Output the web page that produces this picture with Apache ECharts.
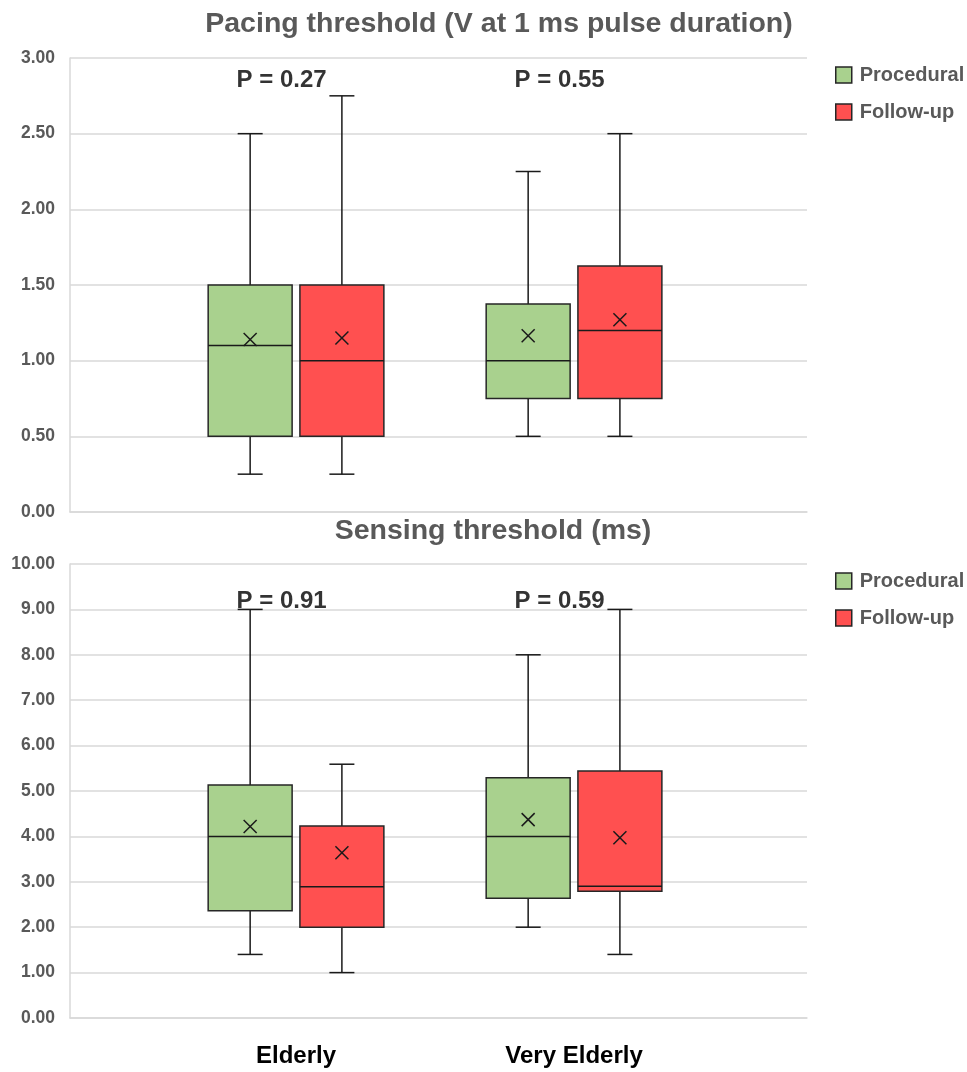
<!DOCTYPE html>
<html><head><meta charset="utf-8">
<script src="https://cdn.jsdelivr.net/npm/echarts@6/dist/echarts.min.js"></script>
<style>html,body{margin:0;padding:0;background:#fff}#c{width:967px;height:1072px}</style>
</head><body><div id="c"></div>
<script>
// ---- data ----
const categories = ['Elderly', 'Very Elderly'];
const groups = ['Procedural', 'Follow-up'];
// each row: [min, Q1, median, Q3, max, mean]
const pacingProcedural = [[0.25, 0.50, 1.10, 1.50, 2.50, 1.14], [0.50, 0.75, 1.00, 1.375, 2.25, 1.165]];
const pacingFollowup   = [[0.25, 0.50, 1.00, 1.50, 2.75, 1.15], [0.50, 0.75, 1.20, 1.625, 2.50, 1.27]];
const sensingProcedural = [[1.40, 2.36, 4.00, 5.13, 9.00, 4.22], [2.00, 2.64, 4.00, 5.29, 8.00, 4.37]];
const sensingFollowup   = [[1.00, 2.00, 2.89, 4.23, 5.59, 3.64], [1.40, 2.79, 2.90, 5.44, 9.00, 3.97]];
const pacingP = ['P = 0.27', 'P = 0.55'];
const sensingP = ['P = 0.91', 'P = 0.59'];
const pacingPY = 2.85;
const sensingPY = 9.17;
const titles = ['Pacing threshold (V at 1 ms pulse duration)', 'Sensing threshold (ms)'];

// ---- layout ----
const catPos = [0.813, 1.813];
const xMax = 2.651;
const groupOffset = [-0.165, 0.165];
const boxW = 0.302;
const colors = ['#A9D18E', '#FF5050'];
const FONT = 'Liberation Sans, Arial, sans-serif';
const GRAY = '#595959';

function toRows(arr) { return arr.map((r, i) => [i].concat(r)); }

function makeRender(off) {
  return function (params, api) {
    const ci = api.value(0);
    const x = catPos[ci] + off;
    const mn = api.coord([x, api.value(1)]);
    const q1 = api.coord([x, api.value(2)]);
    const md = api.coord([x, api.value(3)]);
    const q3 = api.coord([x, api.value(4)]);
    const mx = api.coord([x, api.value(5)]);
    const me = api.coord([x, api.value(6)]);
    const w = api.size([boxW, 0])[0];
    const cx = mn[0];
    const cap = 12.5;
    const xs = 6.5;
    const ls = { stroke: '#1a1a1a', lineWidth: 1.5 };
    return {
      type: 'group',
      children: [
        { type: 'line', shape: { x1: cx, y1: mx[1], x2: cx, y2: q3[1] }, style: ls },
        { type: 'line', shape: { x1: cx - cap, y1: mx[1], x2: cx + cap, y2: mx[1] }, style: ls },
        { type: 'line', shape: { x1: cx, y1: q1[1], x2: cx, y2: mn[1] }, style: ls },
        { type: 'line', shape: { x1: cx - cap, y1: mn[1], x2: cx + cap, y2: mn[1] }, style: ls },
        { type: 'rect', shape: { x: cx - w / 2, y: q3[1], width: w, height: q1[1] - q3[1] },
          style: { fill: api.visual('color'), stroke: '#262626', lineWidth: 1.5 } },
        { type: 'line', shape: { x1: cx - w / 2, y1: md[1], x2: cx + w / 2, y2: md[1] }, style: ls },
        { type: 'line', shape: { x1: cx - xs, y1: me[1] - xs, x2: cx + xs, y2: me[1] + xs }, style: ls },
        { type: 'line', shape: { x1: cx - xs, y1: me[1] + xs, x2: cx + xs, y2: me[1] - xs }, style: ls }
      ]
    };
  };
}

function boxSeries(name, gi, rows, k) {
  return {
    type: 'custom', name: name, xAxisIndex: gi, yAxisIndex: gi,
    itemStyle: { color: colors[k], borderColor: '#262626', borderWidth: 1.5 },
    renderItem: makeRender(groupOffset[k]),
    encode: { x: 0, y: [1, 2, 3, 4, 5] },
    data: toRows(rows), silent: true
  };
}

function pSeries(gi, labels, yv) {
  return {
    type: 'scatter', name: 'p' + gi, xAxisIndex: gi, yAxisIndex: gi,
    symbolSize: 0, silent: true,
    data: labels.map((t, i) => ({ value: [catPos[i] - 0.052, yv], label: { formatter: t } })),
    label: { show: true, position: 'inside', color: '#000', fontSize: 24, fontWeight: 'bold', fontFamily: FONT }
  };
}

function yAxis(gi, max, interval) {
  return {
    type: 'value', gridIndex: gi, min: 0, max: max, interval: interval,
    axisLine: { show: true, lineStyle: { color: '#d9d9d9', width: 1.5 } },
    axisTick: { show: false },
    splitLine: { lineStyle: { color: '#d9d9d9', width: 1.5 } },
    axisLabel: { color: GRAY, fontSize: 17.5, fontWeight: 'bold', fontFamily: FONT, margin: 15,
      formatter: v => v.toFixed(2) }
  };
}

function xAxis(gi, showLabels) {
  return {
    type: 'value', gridIndex: gi, min: 0, max: xMax,
    axisLine: { show: true, lineStyle: { color: '#d9d9d9', width: 1.5 } },
    axisTick: { show: false },
    splitLine: { show: false },
    axisLabel: {
      show: showLabels, customValues: catPos, color: '#000', fontSize: 24, fontWeight: 'bold',
      fontFamily: FONT, margin: 26,
      formatter: v => {
        let best = 0;
        catPos.forEach((p, i) => { if (Math.abs(p - v) < Math.abs(catPos[best] - v)) best = i; });
        return categories[best];
      }
    }
  };
}

function legend(top) {
  return {
    data: groups, orient: 'vertical', left: 835, top: top, padding: 0,
    itemWidth: 16, itemHeight: 16, itemGap: 17,
    icon: 'rect', selectedMode: false,
    itemStyle: { borderColor: '#262626', borderWidth: 1.5 },
    textStyle: { color: GRAY, fontSize: 20, fontWeight: 'bold', fontFamily: FONT, lineHeight: 20, padding: [0, 0, 0, 3] }
  };
}

const option = {
  backgroundColor: '#fff',
  animation: false,
  title: [
    { text: titles[0], left: 499, top: 10, textAlign: 'center', padding: 0,
      textStyle: { color: GRAY, fontSize: 28.5, fontWeight: 'bold', fontFamily: FONT } },
    { text: titles[1], left: 493, top: 517, textAlign: 'center', padding: 0,
      textStyle: { color: GRAY, fontSize: 28.5, fontWeight: 'bold', fontFamily: FONT } }
  ],
  legend: [legend(65), legend(571)],
  grid: [
    { left: 70, width: 737, top: 58, height: 454 },
    { left: 70, width: 737, top: 564, height: 454 }
  ],
  xAxis: [xAxis(0, false), xAxis(1, true)],
  yAxis: [yAxis(0, 3, 0.5), yAxis(1, 10, 1)],
  series: [
    boxSeries(groups[0], 0, pacingProcedural, 0),
    boxSeries(groups[1], 0, pacingFollowup, 1),
    boxSeries(groups[0], 1, sensingProcedural, 0),
    boxSeries(groups[1], 1, sensingFollowup, 1),
    pSeries(0, pacingP, pacingPY),
    pSeries(1, sensingP, sensingPY)
  ]
};
const chart = echarts.init(document.getElementById('c'), null, { renderer: 'canvas' });
chart.setOption(option);
</script></body></html>
